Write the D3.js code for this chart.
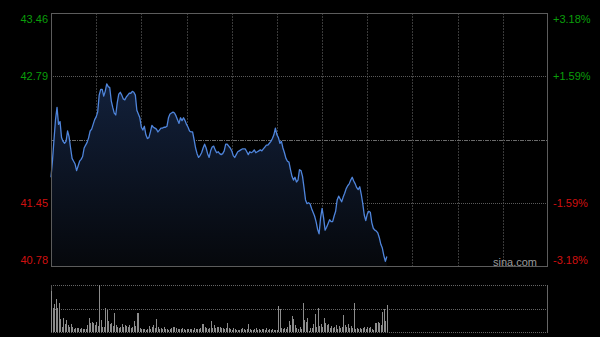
<!DOCTYPE html>
<html>
<head>
<meta charset="utf-8">
<script src="https://cdn.jsdelivr.net/npm/d3@7"></script>
<style>
  html, body { margin: 0; padding: 0; background: #000; }
  svg { display: block; }
  text { font-family: Arial, "Liberation Sans", sans-serif; }
</style>
</head>
<body>
<svg id="chart" width="600" height="337"></svg>
<script>
// intraday price, one value per trading minute
const prices = [
  41.72, 41.90, 42.12, 42.33, 42.46, 42.28, 42.31, 42.14, 42.10, 42.08,
  42.10, 42.21, 42.15, 42.03, 41.92, 41.89, 41.86, 41.79, 41.84, 41.89,
  41.91, 41.94, 42.03, 42.06, 42.09, 42.14, 42.21, 42.23, 42.28, 42.33,
  42.36, 42.41, 42.59, 42.65, 42.65, 42.58, 42.63, 42.71, 42.68, 42.67,
  42.53, 42.46, 42.40, 42.38, 42.51, 42.60, 42.62, 42.59, 42.55, 42.54,
  42.57, 42.59, 42.61, 42.61, 42.63, 42.62, 42.59, 42.43, 42.39, 42.35,
  42.25, 42.22, 42.26, 42.17, 42.13, 42.14, 42.20, 42.27, 42.25, 42.24,
  42.23, 42.20, 42.22, 42.24, 42.24, 42.25, 42.25, 42.26, 42.35, 42.39,
  42.40, 42.41, 42.40, 42.37, 42.33, 42.29, 42.35, 42.32, 42.35, 42.32,
  42.28, 42.25, 42.21, 42.20, 42.20, 42.12, 42.03, 41.97, 41.93, 41.95,
  41.98, 42.03, 42.07, 42.03, 41.97, 41.93, 42.00, 42.04, 42.05, 42.01,
  41.98, 41.99, 41.97, 41.96, 41.97, 42.00, 42.07, 42.07, 42.05, 42.03,
  42.00, 41.95, 41.93, 41.96, 41.99, 42.00, 42.01, 42.02, 42.02, 42.02,
  41.99, 41.96, 41.99, 41.98, 41.99, 42.01, 41.98, 41.99, 42.00, 42.01,
  42.00, 42.02, 42.04, 42.06, 42.06, 42.08, 42.10, 42.13, 42.17, 42.24,
  42.17, 42.14, 42.08, 42.10, 42.03, 41.98, 41.92, 41.89, 41.88, 41.80,
  41.73, 41.69, 41.72, 41.67, 41.69, 41.80, 41.79, 41.73, 41.61, 41.48,
  41.44, 41.45, 41.44, 41.39, 41.35, 41.31, 41.25, 41.17, 41.12, 41.29,
  41.39, 41.29, 41.16, 41.19, 41.23, 41.27, 41.25, 41.25, 41.31, 41.36,
  41.48, 41.52, 41.49, 41.46, 41.51, 41.55, 41.60, 41.63, 41.65, 41.69,
  41.72, 41.68, 41.65, 41.61, 41.59, 41.62, 41.54, 41.44, 41.32, 41.26,
  41.33, 41.36, 41.35, 41.24, 41.18, 41.16, 41.15, 41.13, 41.08, 41.01,
  40.97, 40.89, 40.83, 40.88
];

// volume per minute (relative units)
const volumes = [
  41, 24, 28, 33, 24, 29, 13, 5, 14, 8,
  12, 7, 5, 8, 5, 3, 4, 4, 4, 3,
  4, 3, 3, 3, 7, 14, 9, 10, 9, 7,
  10, 6, 47, 12, 5, 5, 24, 22, 11, 8,
  9, 6, 19, 7, 5, 4, 5, 8, 5, 7,
  6, 5, 7, 4, 5, 11, 6, 19, 19, 4,
  3, 3, 3, 2, 3, 6, 3, 5, 7, 4,
  13, 5, 3, 4, 3, 5, 3, 3, 2, 3,
  4, 5, 5, 4, 3, 3, 3, 4, 3, 2,
  3, 3, 3, 3, 2, 4, 3, 3, 3, 4,
  8, 8, 5, 4, 3, 4, 11, 4, 7, 4,
  5, 5, 5, 4, 4, 3, 4, 9, 4, 3,
  2, 4, 3, 2, 2, 2, 3, 4, 3, 2,
  3, 8, 3, 2, 2, 3, 4, 2, 3, 2,
  3, 3, 2, 4, 2, 3, 2, 3, 2, 2,
  2, 26, 23, 4, 3, 4, 3, 5, 11, 7,
  16, 13, 7, 4, 3, 5, 3, 29, 12, 10,
  14, 1, 4, 4, 8, 18, 5, 24, 6, 8,
  5, 14, 9, 7, 8, 4, 6, 4, 5, 7,
  3, 6, 4, 5, 17, 7, 5, 8, 4, 6,
  4, 29, 3, 4, 3, 4, 3, 4, 5, 3,
  5, 4, 5, 3, 2, 9, 9, 10, 9, 7,
  20, 23, 11, 27
];

const prevClose = 42.12;
const priceTicks = [43.46, 42.79, 42.12, 41.45, 40.78];
const pctLabels = ["+3.18%", "+1.59%", "0.00%", "-1.59%", "-3.18%"];
const sessionMinutes = 330;
const timeTicks = d3.range(30, 330, 30);

const svg = d3.select("#chart");

const plotLeft = 51, plotRight = 548;
const plotTop = 13, plotBottom = 266;
const volTop = 285, volBottom = 332;

const x = d3.scaleLinear().domain([0, sessionMinutes]).range([plotLeft, plotRight]);
const y = d3.scaleLinear().domain([d3.min(priceTicks), d3.max(priceTicks)]).range([plotBottom, plotTop]);
const yVol = d3.scaleLinear().domain([0, d3.max(volumes)]).range([volBottom, volTop]);

// area gradient
const defs = svg.append("defs");
const grad = defs.append("linearGradient")
    .attr("id", "areaGrad")
    .attr("x1", 0).attr("y1", 0).attr("x2", 0).attr("y2", 1);
grad.append("stop").attr("offset", "0%").attr("stop-color", "#12203a");
grad.append("stop").attr("offset", "100%").attr("stop-color", "#06080c");

// vertical grid
svg.append("g")
    .selectAll("line")
    .data(timeTicks)
    .enter()
    .append("line")
    .attr("x1", d => Math.round(x(d)) + 0.5).attr("x2", d => Math.round(x(d)) + 0.5)
    .attr("y1", plotTop).attr("y2", plotBottom)
    .attr("stroke", "#3a3a3a")
    .attr("stroke-dasharray", "2,1");

// horizontal grid
svg.append("g")
    .selectAll("line")
    .data(priceTicks.slice(1, -1))
    .enter()
    .append("line")
    .attr("x1", plotLeft).attr("x2", plotRight)
    .attr("y1", d => Math.round(y(d)) + 0.5).attr("y2", d => Math.round(y(d)) + 0.5)
    .attr("stroke", d => d === prevClose ? "#6a6a6a" : "#5a5a5a")
    .attr("stroke-dasharray", d => d === prevClose ? "4,1,1,1" : "1,1");

// area + line
const area = d3.area()
    .x((d, i) => x(i))
    .y0(plotBottom)
    .y1(d => y(d));
const line = d3.line()
    .x((d, i) => x(i))
    .y(d => y(d));

svg.append("path")
    .datum(prices)
    .attr("d", area)
    .attr("fill", "url(#areaGrad)");

svg.append("path")
    .datum(prices)
    .attr("d", line)
    .attr("fill", "none")
    .attr("stroke", "#4f85dc")
    .attr("stroke-width", 1.3)
    .attr("stroke-linejoin", "round");

// frame
svg.append("rect")
    .attr("x", plotLeft + 0.5).attr("y", plotTop + 0.5)
    .attr("width", plotRight - plotLeft - 1).attr("height", plotBottom - plotTop)
    .attr("fill", "none")
    .attr("stroke", "#5c5c5c")
    .attr("stroke-width", 1);

const labelTicks = priceTicks.filter(d => d !== prevClose);
const labelY = d => Math.min(Math.max(y(d), plotTop + 6), plotBottom - 6);
const labelColor = d => d > prevClose ? "#0a9e0a" : "#d01010";

// price labels (left)
svg.append("g")
    .selectAll("text")
    .data(labelTicks)
    .enter()
    .append("text")
    .attr("x", 48)
    .attr("y", labelY)
    .attr("dy", "0.35em")
    .attr("text-anchor", "end")
    .attr("font-size", 11)
    .attr("fill", labelColor)
    .text(d => d.toFixed(2));

// percent labels (right)
svg.append("g")
    .selectAll("text")
    .data(labelTicks)
    .enter()
    .append("text")
    .attr("x", 553)
    .attr("y", labelY)
    .attr("dy", "0.35em")
    .attr("font-size", 11)
    .attr("fill", labelColor)
    .text(d => pctLabels[priceTicks.indexOf(d)]);

// watermark
svg.append("text")
    .attr("x", 537).attr("y", 262)
    .attr("dy", "0.35em")
    .attr("text-anchor", "end")
    .attr("font-size", 11)
    .attr("fill", "#9a9a9a")
    .text("sina.com");

// volume panel grid
svg.append("g")
    .selectAll("line")
    .data([volTop, (volTop + volBottom) / 2, volBottom])
    .enter()
    .append("line")
    .attr("x1", plotLeft).attr("x2", plotRight)
    .attr("y1", d => Math.round(d) + 0.5).attr("y2", d => Math.round(d) + 0.5)
    .attr("stroke", "#666")
    .attr("stroke-dasharray", "1,1");

svg.append("line")
    .attr("x1", plotLeft + 0.5).attr("x2", plotLeft + 0.5)
    .attr("y1", volTop).attr("y2", volBottom + 1)
    .attr("stroke", "#555");
svg.append("line")
    .attr("x1", plotRight - 0.5).attr("x2", plotRight - 0.5)
    .attr("y1", volTop).attr("y2", volBottom + 1)
    .attr("stroke", "#666");

// volume bars
svg.append("g")
    .selectAll("line")
    .data(volumes)
    .enter()
    .append("line")
    .attr("x1", (d, i) => Math.round(x(i)) + 0.5).attr("x2", (d, i) => Math.round(x(i)) + 0.5)
    .attr("y1", volBottom).attr("y2", d => yVol(d))
    .attr("stroke", "#8c8c8c")
    .attr("stroke-width", 1);
</script>
</body>
</html>
